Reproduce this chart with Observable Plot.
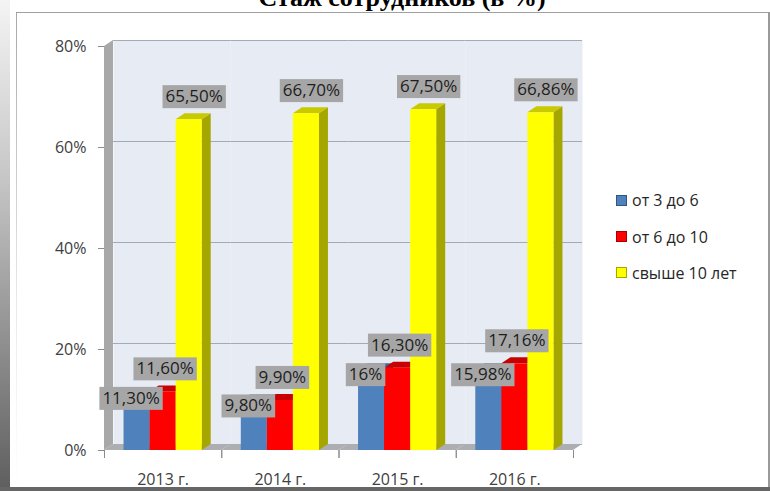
<!DOCTYPE html>
<html>
<head>
<meta charset="utf-8">
<script src="https://cdn.jsdelivr.net/npm/d3@7"></script>
<script src="https://cdn.jsdelivr.net/npm/@observablehq/plot@0.6"></script>
<style>
  html, body { margin: 0; padding: 0; background: #fff; }
  #wrap { position: relative; width: 770px; height: 491px; overflow: hidden; background: #fff; font-family: "Open Sans", sans-serif; }
  .abs { position: absolute; }
  #title { position: absolute; left: 0; width: 804px; top: -15px; text-align: center;
           font-family: "Liberation Serif", serif; font-weight: bold; font-size: 26px; line-height: 26px; color: #000; }
  #legend { position: absolute; left: 616px; top: 0; font-size: 16px; color: #262626; }
  #legend .row { position: absolute; left: 0; white-space: nowrap; display: flex; align-items: center; height: 20px; }
  #legend .sw { width: 9px; height: 9px; border: 1px solid rgba(0,0,0,0.35); margin-right: 5px; }
  svg.chart { position: absolute; left: 0; top: 0; }
  g[aria-description="bar-side"] rect, g[aria-description="lwall"] rect {
    transform-box: fill-box; transform-origin: 0% 100%; transform: skewY(-33.69deg);
  }
  g[aria-description="bar-top"] rect, g[aria-description="floor"] rect {
    transform-box: fill-box; transform-origin: 0% 100%; transform: skewX(-56.31deg);
  }
</style>
</head>
<body>
<div id="wrap">
  <div class="abs" style="left:0;top:0;width:10px;height:491px;background:linear-gradient(to bottom,#f4f4f4 0%,#c8c8c8 35%,#5e5e5e 100%);"></div>
  <div class="abs" style="left:16px;top:12px;width:1px;height:475px;background:linear-gradient(to bottom,#a8a8a8,#e8e8e8 60%,#ffffff);"></div>
  <div class="abs" style="left:16px;top:12px;width:754px;height:1px;background:#a0a0a0;"></div>
  <div class="abs" style="left:768px;top:12px;width:2px;height:479px;background:#9a9a9a;"></div>
  <div class="abs" style="left:0;top:487px;width:770px;height:4px;background:#666;"></div>
  <div id="title">Стаж сотрудников (в %)</div>
  <div id="legend"></div>
</div>
<script>
// ---- data ----
const years = ["2013 г.", "2014 г.", "2015 г.", "2016 г."];
const series = ["от 3 до 6", "от 6 до 10", "свыше 10 лет"];
const from3to6 = [11.3, 9.8, 16, 15.98];
const from6to10 = [11.6, 9.9, 16.3, 17.16];
const over10 = [65.5, 66.7, 67.5, 66.86];
const labels3to6 = ["11,30%", "9,80%", "16%", "15,98%"];
const labels6to10 = ["11,60%", "9,90%", "16,30%", "17,16%"];
const labelsOver10 = ["65,50%", "66,70%", "67,50%", "66,86%"];
const yTicks = [0, 20, 40, 60, 80];
const yTickLabels = ["0%", "20%", "40%", "60%", "80%"];

// ---- styles ----
const frontColors = ["#4f81bd", "#ff0000", "#ffff00"];
const topColors = ["#3c6aa2", "#c80000", "#c9c900"];
const sideColors = ["#2f5585", "#a00000", "#a6a600"];
const labelOffset = [{dx: -6, dy: 5}, {dx: 2, dy: -23}, {dx: 5, dy: -23}];

const W = 770, H = 491;
const M = {left: 104, right: 197, top: 46, bottom: 41};
const DX = 9, DY = 6;
const FACET_W = (W - M.left - M.right) / years.length;
const PAD_OUTER = 0.75;
const BW = FACET_W / (series.length + 2 * PAD_OUTER);
const PLOT_H = H - M.top - M.bottom;

const valueSets = [from3to6, from6to10, over10];
const labelSets = [labels3to6, labels6to10, labelsOver10];
const rows = years.flatMap((yr, i) => series.map((s, j) => ({
  year: yr, series: s, value: valueSets[j][i], label: labelSets[j][i]
})));

const faceMarks = series.flatMap((s, j) => {
  const d = rows.filter(r => r.series === s);
  return [
    Plot.barY(d, {fx: "year", x: "series", y1: 0, y2: "value", insetLeft: BW, insetRight: -DX,
                  fill: sideColors[j], ariaDescription: "bar-side"}),
    Plot.barY(d, {fx: "year", x: "series", y1: "value", y2: "value", insetTop: -DY,
                  fill: topColors[j], ariaDescription: "bar-top"}),
    Plot.barY(d, {fx: "year", x: "series", y1: 0, y2: "value",
                  fill: frontColors[j], ariaDescription: "bar-front"})
  ];
});

const labelMarks = series.map((s, j) => Plot.text(rows.filter(r => r.series === s), {
  fx: "year", x: "series", y: "value", text: "label",
  dx: labelOffset[j].dx, dy: labelOffset[j].dy,
  fontSize: 17, fill: "#1e1e1e", ariaDescription: "vlabel"
}));

const chart = Plot.plot({
  width: W, height: H,
  marginLeft: M.left, marginRight: M.right, marginTop: M.top, marginBottom: M.bottom,
  style: {background: "transparent", fontFamily: "Open Sans, sans-serif", fontSize: "16px", overflow: "visible"},
  fx: {domain: years, padding: 0, round: false, label: null},
  x: {domain: series, paddingInner: 0, paddingOuter: PAD_OUTER, round: false, axis: null},
  y: {domain: [0, 80], label: null},
  marks: [
    Plot.frame({fill: "#e7ebf4", stroke: "none", dx: DX, dy: -DY}),
    Plot.gridY(yTicks, {stroke: "#a3aab7", strokeOpacity: 1, strokeWidth: 1, dx: DX, dy: -DY}),
    Plot.rect([0], {y1: 0, y2: 0, insetTop: -DY, fill: "#acaeb1", ariaDescription: "floor"}),
    Plot.rect([{year: years[0]}], {fx: "year", y1: 0, y2: 80, insetRight: FACET_W - DX, fill: "#a8a8a8", ariaDescription: "lwall"}),
    ...faceMarks,
    ...labelMarks,
    Plot.axisY(yTicks, {tickFormat: d => yTickLabels[yTicks.indexOf(d)], tickSize: 6, tickPadding: 12,
                        fontSize: 16, stroke: "#8c8c8c", fill: "#404040", label: null}),
    Plot.axisFx({anchor: "bottom", tickSize: 0, tickPadding: 23, fontSize: 16, fill: "#404040", label: null}),
    Plot.frame({anchor: "left", insetTop: PLOT_H, insetBottom: -7, stroke: "#8c8c8c"}),
    Plot.frame({anchor: "right", insetTop: PLOT_H, insetBottom: -7, stroke: "#8c8c8c"})
  ]
});
chart.classList.add("chart");
document.getElementById("wrap").appendChild(chart);

// gray boxes behind the value labels
const svgNS = "http://www.w3.org/2000/svg";
chart.querySelectorAll('g[aria-description="vlabel"] text').forEach(t => {
  const b = t.getBBox();
  const r = document.createElementNS(svgNS, "rect");
  const h = 23;
  r.setAttribute("x", b.x - 3);
  r.setAttribute("y", b.y + b.height / 2 - h / 2 + 1);
  r.setAttribute("width", b.width + 6);
  r.setAttribute("height", h);
  r.setAttribute("fill", "#a6a6a6");
  r.setAttribute("stroke", "none");
  const tr = t.getAttribute("transform");
  if (tr) r.setAttribute("transform", tr);
  t.parentNode.insertBefore(r, t);
});

// legend
const legend = document.getElementById("legend");
const legendRowsY = [190, 226.5, 262.5];
series.forEach((s, j) => {
  const row = document.createElement("div");
  row.className = "row";
  row.style.top = legendRowsY[j] + "px";
  const sw = document.createElement("span");
  sw.className = "sw";
  sw.style.background = frontColors[j];
  const tx = document.createElement("span");
  tx.textContent = s;
  row.appendChild(sw); row.appendChild(tx);
  legend.appendChild(row);
});
</script>
</body>
</html>
